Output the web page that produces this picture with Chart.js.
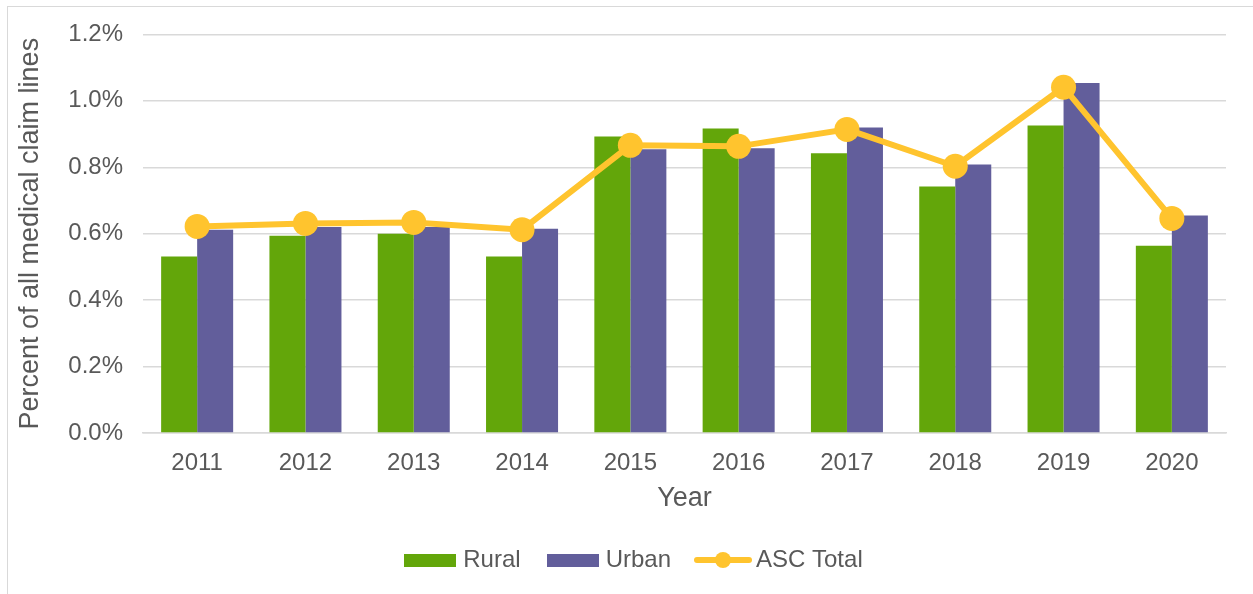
<!DOCTYPE html>
<html>
<head>
<meta charset="utf-8">
<script src="https://cdn.jsdelivr.net/npm/chart.js@4/dist/chart.umd.min.js"></script>
<style>
  html, body { margin: 0; padding: 0; background: #fff; overflow: hidden; }
  #frame { position: absolute; left: 7px; top: 6px; width: 1300px; height: 700px;
    border-left: 1px solid #d9d9d9; border-top: 1px solid #d9d9d9; }
  #wrap { position: absolute; left: 0; top: 0; width: 1253px; height: 594px; }
</style>
</head>
<body>
<div id="frame"></div>
<div id="wrap"><canvas id="chart"></canvas></div>
<script>
"use strict";

const years = ["2011", "2012", "2013", "2014", "2015", "2016", "2017", "2018", "2019", "2020"];
const rural = [0.531, 0.594, 0.600, 0.531, 0.893, 0.917, 0.842, 0.742, 0.926, 0.564];
const urban = [0.612, 0.620, 0.620, 0.615, 0.854, 0.857, 0.920, 0.808, 1.054, 0.655];
const ascTotal = [0.622, 0.631, 0.634, 0.612, 0.866, 0.863, 0.914, 0.803, 1.041, 0.646];
const yTicks = [0, 0.2, 0.4, 0.6, 0.8, 1.0, 1.2];

const GREEN = "#63a60a";
const PURPLE = "#625e9b";
const GOLD = "#ffc42e";
const TEXT = "#595959";
const FONT = "'Liberation Sans', Arial, sans-serif";

// legend symbols drawn into small canvases
function swatch(color) {
	const c = document.createElement("canvas");
	c.width = 52;
	c.height = 13;
	const g = c.getContext("2d");
	g.fillStyle = color;
	g.fillRect(0, 0, 52, 13);
	return c;
}
function lineSwatch() {
	const c = document.createElement("canvas");
	c.width = 58;
	c.height = 16;
	const g = c.getContext("2d");
	g.strokeStyle = GOLD;
	g.lineWidth = 6;
	g.lineCap = "round";
	g.beginPath();
	g.moveTo(3, 8);
	g.lineTo(55, 8);
	g.stroke();
	g.fillStyle = GOLD;
	g.beginPath();
	g.arc(29, 8, 8, 0, Math.PI * 2);
	g.fill();
	return c;
}
const legendIcons = [swatch(GREEN), swatch(PURPLE), lineSwatch()];

// nudge the legend a little to the right, like the original
const shiftLegend = {
	id: "shiftLegend",
	afterLayout: (chart) => {
		chart.legend.left += 16;
		chart.legend.right += 16;
	},
};

Chart.defaults.font.family = FONT;
Chart.defaults.color = TEXT;

new Chart(document.getElementById("chart"), {
	type: "bar",
	data: {
		labels: years,
		datasets: [
			{
				label: "Rural",
				data: rural,
				backgroundColor: GREEN,
				order: 1,
			},
			{
				label: "Urban",
				data: urban,
				backgroundColor: PURPLE,
				order: 1,
			},
			{
				type: "line",
				label: "ASC Total",
				data: ascTotal,
				borderColor: GOLD,
				backgroundColor: GOLD,
				borderWidth: 6,
				pointRadius: 12.5,
				pointHoverRadius: 12.5,
				pointBorderWidth: 0,
				tension: 0,
				order: 0,
			},
		],
	},
	options: {
		responsive: true,
		maintainAspectRatio: false,
		animation: false,
		datasets: {
			bar: {
				barPercentage: 1,
				categoryPercentage: 0.665,
			},
		},
		layout: {
			padding: { left: 14, top: 34, right: 27, bottom: 12 },
		},
		plugins: {
			tooltip: { enabled: false },
			legend: {
				position: "bottom",
				labels: {
					usePointStyle: true,
					pointStyleWidth: 42,
					boxHeight: 16,
					padding: 31,
					font: { size: 24 },
					color: TEXT,
					generateLabels: (chart) =>
						chart.data.datasets.map((ds, i) => ({
							text: ds.label,
							pointStyle: legendIcons[i],
							fillStyle: "transparent",
							strokeStyle: "transparent",
							lineWidth: 0,
							datasetIndex: i,
							hidden: false,
							fontColor: TEXT,
						})),
				},
			},
		},
		scales: {
			x: {
				grid: { display: false, drawTicks: false },
				border: { color: "#d9d9d9", width: 1.5 },
				ticks: { padding: 16, font: { size: 24 }, color: TEXT },
				title: {
					display: true,
					text: "Year",
					font: { size: 27 },
					color: TEXT,
					padding: { top: 0, bottom: 2 },
				},
				afterFit: (s) => {
					s.height = 84;
				},
			},
			y: {
				min: 0,
				max: 1.2,
				afterBuildTicks: (s) => {
					s.ticks = yTicks.map((v) => ({ value: v }));
				},
				grid: { color: "#d9d9d9", lineWidth: 1.5, drawTicks: false },
				border: { display: false },
				ticks: {
					padding: 20,
					font: { size: 24 },
					color: TEXT,
					callback: (v) => `${v.toFixed(1)}%`,
				},
				title: {
					display: true,
					text: "Percent of all medical claim lines",
					font: { size: 27 },
					color: TEXT,
					padding: { top: 0, bottom: 6 },
				},
				afterFit: (s) => {
					s.width = 129;
				},
			},
		},
	},
	plugins: [shiftLegend],
});
</script>
</body>
</html>
